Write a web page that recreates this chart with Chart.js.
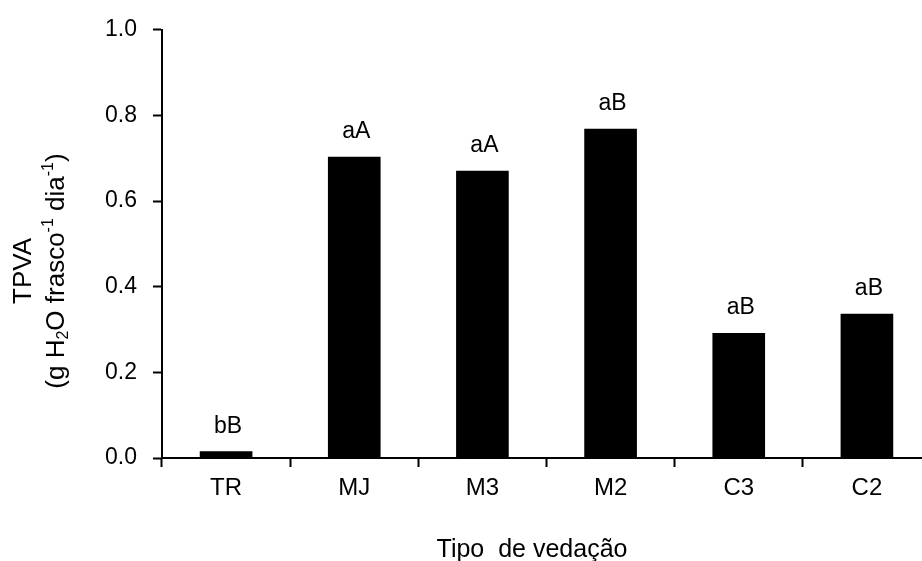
<!DOCTYPE html>
<html>
<head>
<meta charset="utf-8">
<script src="https://cdn.jsdelivr.net/npm/chart.js@4/dist/chart.umd.min.js"></script>
<style>
  html, body { margin: 0; padding: 0; overflow: hidden; background: #fff; }
  #wrap { width: 922px; height: 561px; overflow: hidden; }
  canvas { display: block; }
</style>
</head>
<body>
<div id="wrap"><canvas id="c" width="940" height="561"></canvas></div>
<script>
// Tipos de vedação e taxa de permeabilidade ao vapor de água (TPVA)
const categories = ['TR', 'MJ', 'M3', 'M2', 'C3', 'C2'];
const tpva = [0.015, 0.703, 0.670, 0.768, 0.291, 0.336];
const letters = ['bB', 'aA', 'aA', 'aB', 'aB', 'aB'];
const yTicks = [0.0, 0.2, 0.4, 0.6, 0.8, 1.0];

const FONT = '"Liberation Sans", Arial, sans-serif';
const INK = '#000';

// Letras de significância acima de cada barra
const barLetters = {
  id: 'barLetters',
  afterDatasetsDraw(chart) {
    const ctx = chart.ctx;
    const meta = chart.getDatasetMeta(0);
    ctx.save();
    ctx.font = '23px ' + FONT;
    ctx.fillStyle = INK;
    ctx.textAlign = 'center';
    ctx.textBaseline = 'alphabetic';
    meta.data.forEach((bar, i) => {
      ctx.fillText(letters[i], bar.x + 2, bar.y - 19);
    });
    ctx.restore();
  }
};

// Títulos dos eixos
const axisTitles = {
  id: 'axisTitles',
  afterDraw(chart) {
    const ctx = chart.ctx;
    ctx.save();
    ctx.fillStyle = INK;
    ctx.font = '25px ' + FONT;
    ctx.textAlign = 'center';
    ctx.textBaseline = 'middle';
    ctx.fillText('Tipo  de vedação', 532, 550);

    ctx.translate(0, 271);
    ctx.rotate(-Math.PI / 2);
    ctx.font = '26px ' + FONT;
    ctx.fillText('TPVA', 0, 24);
    // segunda linha com subscrito e sobrescritos
    const parts = [
      ['(g H', 0], ['2', 1], ['O frasco', 0], ['-1', -1], [' dia', 0], ['-1', -1], [')', 0]
    ];
    const big = '26px ' + FONT, small = '16px ' + FONT;
    let total = 0;
    parts.forEach(p => { ctx.font = p[1] ? small : big; total += ctx.measureText(p[0]).width; });
    let x = -total / 2;
    ctx.textAlign = 'left';
    parts.forEach(p => {
      ctx.font = p[1] ? small : big;
      const dy = p[1] === 1 ? 7 : (p[1] === -1 ? -8 : 0);
      ctx.fillText(p[0], x, 57 + dy);
      x += ctx.measureText(p[0]).width;
    });
    ctx.restore();
  }
};

new Chart(document.getElementById('c'), {
  type: 'bar',
  data: {
    labels: categories,
    datasets: [{
      data: tpva,
      backgroundColor: '#000',
      borderWidth: 0,
      barThickness: 52
    }]
  },
  options: {
    responsive: false,
    animation: false,
    events: [],
    layout: { padding: { left: 0, right: 9, top: 26, bottom: 0 } },
    plugins: { legend: { display: false }, tooltip: { enabled: false } },
    scales: {
      x: {
        offset: true,
        grid: {
          offset: true,
          drawOnChartArea: false,
          drawTicks: true,
          tickLength: 9,
          tickWidth: 2,
          tickColor: INK
        },
        border: { display: true, color: INK, width: 2 },
        ticks: { color: INK, font: { family: FONT, size: 24 }, padding: 7, maxRotation: 0 },
        afterFit(scale) { scale.height = 103; }
      },
      y: {
        min: 0,
        max: 1,
        afterBuildTicks(scale) { scale.ticks = yTicks.map(v => ({ value: v })); },
        grid: {
          drawOnChartArea: false,
          drawTicks: true,
          tickLength: 9,
          tickWidth: 2,
          tickColor: INK
        },
        border: { display: true, color: INK, width: 2 },
        ticks: {
          color: INK,
          font: { family: FONT, size: 23 },
          padding: 16,
          callback: v => Number(v).toFixed(1)
        },
        afterFit(scale) { scale.width = 162; }
      }
    }
  },
  plugins: [barLetters, axisTitles]
});
</script>
</body>
</html>
